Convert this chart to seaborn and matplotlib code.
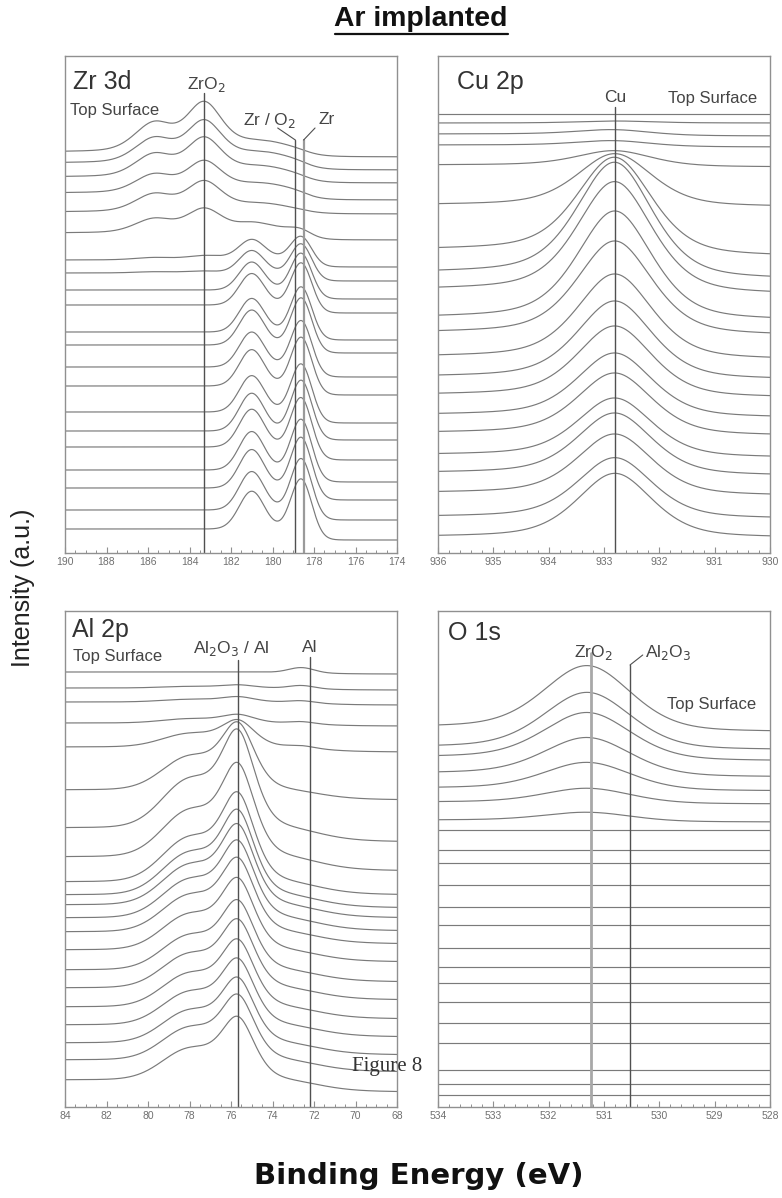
import numpy as np
import pandas as pd
import matplotlib
matplotlib.use("Agg")
import matplotlib.pyplot as plt
from matplotlib.lines import Line2D
import seaborn as sns

sns.set_theme(style="white")
plt.rcParams['font.family'] = ['Liberation Sans', 'DejaVu Sans']

# ---------------- data (top curve first) ----------------
# Zr 3d : baseline level, ZrO2 doublet height, sub-oxide height, metal doublet height, background step
zr_base  = [401, 390, 376, 360, 341, 320, 293, 280, 263, 248, 221, 208, 186, 167, 141, 122, 106, 83, 65, 43, 24]
zr_oxide = [47, 40, 37, 30, 29, 23, 4, 2, 0, 0, 0, 0, 0, 0, 0, 0, 0, 0, 0, 0, 0]
zr_sub   = [10, 10, 10, 9, 8, 7, 3, 0, 0, 0, 0, 0, 0, 0, 0, 0, 0, 0, 0, 0, 0]
zr_metal = [0, 0, 0, 0, 0, 4, 25, 32, 40, 45, 48, 50, 50, 52, 52, 54, 54, 55, 55, 55, 54]
zr_step  = [5, 7, 6, 7, 2, 7, 7, 8, 9, 8, 8, 8, 10, 9, 11, 9, 13, 12, 12, 10, 11]

# Cu 2p
cu_base  = [439, 430, 419, 408, 388, 348, 303, 280, 263, 235, 220, 196, 176, 158, 138, 120, 98, 80, 60, 36, 16]
cu_peak  = [0, 2, 5, 5, 15, 52, 95, 113, 110, 108, 93, 84, 77, 70, 63, 61, 58, 61, 60, 60, 64]
cu_step  = [0, 0, 2, 2, 2, 2, 7, 7, 5, 3, 3, 3, 3, 3, 3, 3, 3, 3, 3, 2, 1]

# Al 2p
al_base  = [435, 419, 405, 384, 360, 317, 279, 250, 225, 212, 202, 189, 175, 157, 137, 119, 100, 82, 64, 47, 27]
al_oxide = [0, 3, 5, 8, 25, 62, 90, 86, 82, 78, 74, 71, 68, 66, 64, 63, 62, 61, 60, 60, 58]
al_metal = [5, 3, 2, 2, 2, 0, 0, 0, 0, 0, 0, 0, 0, 0, 0, 0, 0, 0, 0, 0, 0]
al_step  = [2, 2, 3, 3, 5, 10, 14, 14, 13, 13, 13, 13, 12, 12, 12, 12, 12, 12, 12, 12, 12]

# O 1s
o_base   = [380, 360, 350, 334, 319, 305, 287, 277, 257, 244, 222, 200, 182, 159, 140, 124, 105, 84, 64, 37, 23, 12]
o_peak   = [62, 55, 45, 36, 26, 14, 8, 0, 0, 0, 0, 0, 0, 0, 0, 0, 0, 0, 0, 0, 0, 0]
o_step   = [5, 3, 4, 4, 3, 2, 2, 0, 0, 0, 0, 0, 0, 0, 0, 0, 0, 0, 0, 0, 0, 0]

# reference-line energies (eV)
zr_lines = {"ZrO2": 183.3, "Zr/O2": 178.9, "Zr": 178.5}
cu_lines = {"Cu": 932.8}
al_lines = {"Al2O3/Al": 75.65, "Al": 72.2}
o_lines  = {"ZrO2": 531.23, "Al2O3": 530.53}

# ---------------- line shapes ----------------
def g(x, c, s):
    return np.exp(-0.5 * ((x - c) / s) ** 2)

def pv(x, c, fwhm, eta):
    s = fwhm / 2.3548
    lor = 1.0 / (1.0 + ((x - c) / (fwhm / 2)) ** 2)
    return eta * lor + (1 - eta) * g(x, c, s)

def stepf(x, c, w):
    return 1.0 / (1.0 + np.exp((x - c) / w))

def build(name, x, rows):
    recs = []
    for i, y in enumerate(rows):
        recs.append(pd.DataFrame({"panel": name, "curve": i, "be": x, "intensity": y}))
    return pd.concat(recs)

xz = np.linspace(190, 174, 500)
zr_rows = []
for b, ox, sb, m, st in zip(zr_base, zr_oxide, zr_sub, zr_metal, zr_step):
    y = (b - st * stepf(xz, 178.4, 0.35)
         + ox * (pv(xz, 183.3, 2.0, 0.3) + 0.6 * pv(xz, 185.7, 2.2, 0.3))
         + sb * g(xz, 180.6, 1.4)
         + m * (g(xz, 178.6, 0.5) + 0.7 * g(xz, 181.0, 0.6)))
    zr_rows.append(y)

xc = np.linspace(936, 930, 400)
cu_rows = []
for b, p, st in zip(cu_base, cu_peak, cu_step):
    y = b - st * stepf(xc, 932.5, 0.4) + p * pv(xc, 932.8, 1.6, 0.45)
    cu_rows.append(y)

xa = np.linspace(84, 68, 500)
al_rows = []
for b, ox, m, st in zip(al_base, al_oxide, al_metal, al_step):
    y = (b - st * stepf(xa, 71.8, 0.9)
         + ox * (pv(xa, 75.65, 1.9, 0.4) + 0.5 * g(xa, 78.0, 1.3))
         + m * g(xa, 72.6, 0.6))
    al_rows.append(y)

xo = np.linspace(534, 528, 400)
o_rows = []
for b, p, st in zip(o_base, o_peak, o_step):
    y = b - st * stepf(xo, 530.5, 0.4) + p * pv(xo, 531.3, 1.85, 0.3)
    o_rows.append(y)

# ---------------- figure ----------------
W, H = 782, 1198
fig = plt.figure(figsize=(W / 100, H / 100), dpi=100)

def axrect(l, t, r, b):
    return [l / W, 1 - b / H, (r - l) / W, (b - t) / H]

ax_zr = fig.add_axes(axrect(65, 56, 397, 553))
ax_cu = fig.add_axes(axrect(438, 56, 770, 553))
ax_al = fig.add_axes(axrect(65, 611, 397, 1107))
ax_o  = fig.add_axes(axrect(438, 611, 770, 1107))

curve_col = "#7a7a7a"
frame_col = "#909090"

panels = [
    (ax_zr, build("zr", xz, zr_rows), (190, 174), 497, 2, 0.5),
    (ax_cu, build("cu", xc, cu_rows), (936, 930), 497, 1, 0.2),
    (ax_al, build("al", xa, al_rows), (84, 68), 496, 2, 0.5),
    (ax_o,  build("o", xo, o_rows), (534, 528), 496, 1, 0.2),
]
for ax, df, xl, yh, major, minor in panels:
    sns.lineplot(data=df, x="be", y="intensity", units="curve", estimator=None,
                 color=curve_col, linewidth=0.85, ax=ax, legend=False, sort=False)
    ax.set_xlim(*xl)
    ax.set_ylim(0, yh)
    ax.set_xlabel("")
    ax.set_ylabel("")
    ax.set_yticks([])
    ticks = np.arange(min(xl), max(xl) + 1e-6, major)
    ax.set_xticks(ticks)
    ax.set_xticklabels([f"{int(round(t))}" for t in ticks])
    ax.xaxis.set_minor_locator(matplotlib.ticker.MultipleLocator(minor))
    ax.tick_params(axis="x", which="major", direction="in", length=4, width=0.8,
                   color=frame_col, labelsize=7.5, labelcolor="#707070", pad=3, bottom=True)
    ax.tick_params(axis="x", which="minor", direction="in", length=2, width=0.7,
                   color=frame_col, bottom=True)
    for s in ax.spines.values():
        s.set_color(frame_col)
        s.set_linewidth(1.0)

line_col = "#505050"
lab_fs = 12.5
ts_fs = 12
big_fs = 18
# Zr 3d annotations
ax_zr.axvline(zr_lines["ZrO2"], ymax=0.926, color=line_col, lw=1.0)
ax_zr.axvline(zr_lines["Zr/O2"], ymax=0.831, color=line_col, lw=1.0)
ax_zr.axvline(zr_lines["Zr"], ymax=0.831, color="#9a9a9a", lw=1.6)
ax_zr.plot([179.75, zr_lines["Zr/O2"]], [425, 413], color=line_col, lw=0.8)
ax_zr.plot([177.95, zr_lines["Zr"]], [425, 413], color=line_col, lw=0.8)
ax_zr.text(189.61, 471, "Zr 3d", fontsize=big_fs, color="#333333", va="center", ha="left")
ax_zr.text(189.75, 442, "Top Surface", fontsize=ts_fs, color="#444444", va="center", ha="left")
ax_zr.text(183.2, 468, "ZrO$_2$", fontsize=lab_fs, color="#444444", va="center", ha="center")
ax_zr.text(180.15, 433, "Zr / O$_2$", fontsize=lab_fs, color="#444444", va="center", ha="center")
ax_zr.text(177.4, 433, "Zr", fontsize=lab_fs, color="#444444", va="center", ha="center")

# Cu 2p annotations
ax_cu.axvline(cu_lines["Cu"], ymax=0.897, color=line_col, lw=1.0)
ax_cu.text(935.66, 471, "Cu 2p", fontsize=big_fs, color="#333333", va="center", ha="left")
ax_cu.text(932.8, 455, "Cu", fontsize=lab_fs, color="#444444", va="center", ha="center")
ax_cu.text(931.03, 455, "Top Surface", fontsize=ts_fs, color="#444444", va="center", ha="center")

# Al 2p annotations
ax_al.axvline(al_lines["Al2O3/Al"], ymax=0.901, color=line_col, lw=1.0)
ax_al.axvline(al_lines["Al"], ymax=0.907, color=line_col, lw=1.0)
ax_al.text(83.66, 477, "Al 2p", fontsize=big_fs, color="#333333", va="center", ha="left")
ax_al.text(83.62, 450, "Top Surface", fontsize=ts_fs, color="#444444", va="center", ha="left")
ax_al.text(76.0, 459, "Al$_2$O$_3$ / Al", fontsize=lab_fs, color="#444444", va="center", ha="center")
ax_al.text(72.2, 459, "Al", fontsize=lab_fs, color="#444444", va="center", ha="center")

# O 1s annotations
ax_o.axvline(o_lines["ZrO2"], ymax=0.915, color="#a8a8a8", lw=2.0)
ax_o.axvline(o_lines["Al2O3"], ymax=0.891, color=line_col, lw=1.0)
ax_o.plot([o_lines["Al2O3"], 530.3], [442, 452], color=line_col, lw=0.8)
ax_o.text(533.82, 474, "O 1s", fontsize=big_fs, color="#333333", va="center", ha="left")
ax_o.text(531.2, 455, "ZrO$_2$", fontsize=lab_fs, color="#444444", va="center", ha="center")
ax_o.text(529.84, 455, "Al$_2$O$_3$", fontsize=lab_fs, color="#444444", va="center", ha="center")
ax_o.text(529.05, 402, "Top Surface", fontsize=ts_fs, color="#444444", va="center", ha="center")

# figure-level texts
fig.text(421 / W, 1 - 19 / H, "Ar implanted", fontsize=20.4, fontweight="bold",
         ha="center", va="center", color="#111111")
fig.add_artist(Line2D([335 / W, 508 / W], [1 - 34 / H, 1 - 34 / H], color="#111111", lw=1.6))
fig.text(23 / W, 1 - 588 / H, "Intensity (a.u.)", fontsize=18, rotation=90,
         ha="center", va="center", color="#222222")
fig.text(419 / W, 1 - 1176 / H, "Binding Energy (eV)", fontsize=21,
         family=["DejaVu Sans"], fontweight="bold",
         ha="center", va="center", color="#111111")
fig.text(387 / W, 1 - 1066 / H, "Figure 8", fontsize=15, family=["Liberation Serif", "DejaVu Serif"],
         ha="center", va="center", color="#333333")

fig.savefig("out.png", dpi=100, facecolor="white")
